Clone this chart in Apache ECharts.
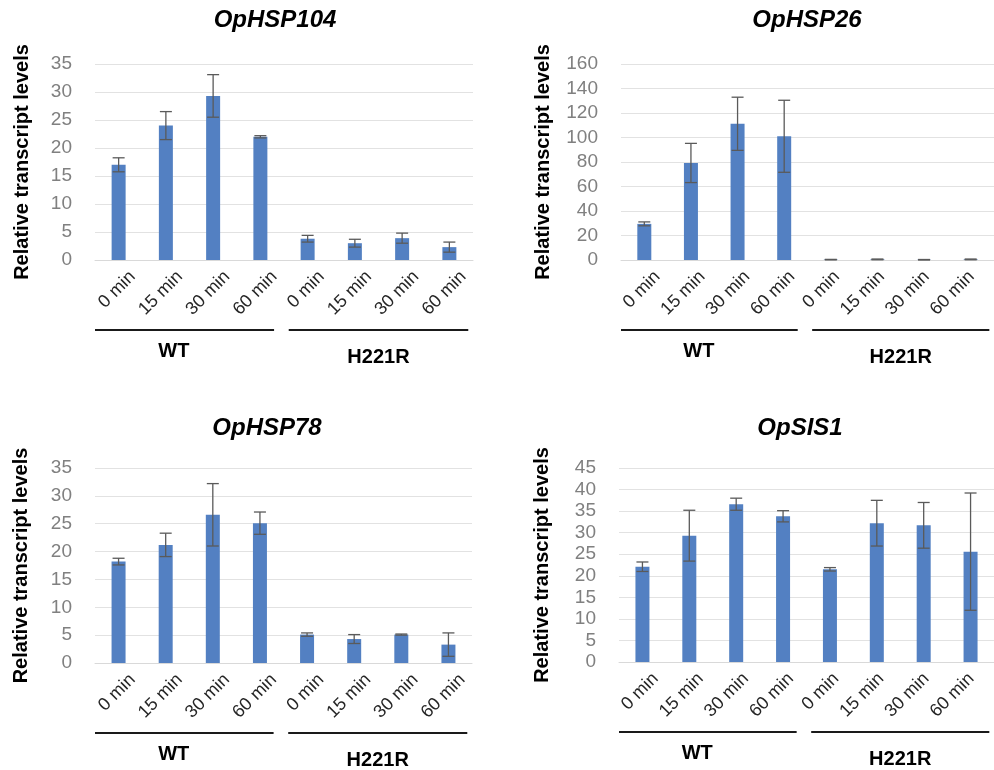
<!DOCTYPE html>
<html><head><meta charset="utf-8">
<script src="https://cdn.jsdelivr.net/npm/echarts@6/dist/echarts.min.js"></script>
<style>html,body{margin:0;padding:0;background:#fff}#c{width:994px;height:770px}</style>
</head><body><div id="c"></div>
<script>
// ---- data ----
const categories = ['0 min', '15 min', '30 min', '60 min', '0 min', '15 min', '30 min', '60 min'];
const groups = ['WT', 'H221R'];
const titles = ['OpHSP104', 'OpHSP26', 'OpHSP78', 'OpSIS1'];
const yName = 'Relative transcript levels';

const hsp104 = [17.0, 24.0, 29.3, 22.0, 3.8, 3.0, 3.9, 2.3];
const hsp104Err = [1.25, 2.5, 3.8, 0.2, 0.6, 0.7, 0.9, 0.9];
const hsp26 = [29.5, 79.2, 111.2, 101.0, 0.3, 0.5, 0.2, 0.5];
const hsp26Err = [1.6, 16.0, 21.7, 29.4, 0.2, 0.3, 0.2, 0.3];
const hsp78 = [18.2, 21.2, 26.6, 25.1, 5.1, 4.3, 5.1, 3.3];
const hsp78Err = [0.6, 2.1, 5.6, 2.0, 0.3, 0.8, 0.1, 2.1];
const sis1 = [22.1, 29.3, 36.6, 33.8, 21.5, 32.2, 31.7, 25.6];
const sis1Err = [1.1, 5.9, 1.4, 1.3, 0.4, 5.3, 5.3, 13.6];

const yMax = [35, 160, 35, 45];
const yInterval = [5, 20, 5, 5];

// ---- layout / style ----
const values = [hsp104, hsp26, hsp78, sis1];
const errors = [hsp104Err, hsp26Err, hsp78Err, sis1Err];
const FONT = '"Liberation Sans", Arial, Helvetica, sans-serif';
const BAR = '#5380c2';
const ERR = '#5a5a5a';
const grids = [
  {left: 95, top: 64, width: 378, height: 196},
  {left: 621, top: 64, width: 373, height: 196},
  {left: 95, top: 468, width: 377, height: 195},
  {left: 619, top: 468, width: 375, height: 194}
];
const titlePos = [[275, 8], [807, 8], [267, 416], [800, 416]];
const nameGaps = [63, 68, 64, 67];
const LABEL_SHIFT = 14;

const chart = echarts.init(document.getElementById('c'), null, {renderer: 'canvas'});

const option = {
  backgroundColor: '#fff',
  animation: false,
  textStyle: {fontFamily: FONT},
  title: titles.map((t, i) => ({
    text: t, left: titlePos[i][0], top: titlePos[i][1], textAlign: 'center', padding: 0,
    textStyle: {fontFamily: FONT, fontSize: 24, fontWeight: 'bold', fontStyle: 'italic', color: '#000'}
  })),
  grid: [
    ...grids.map(g => Object.assign({containLabel: false}, g)),
    ...grids.map(g => Object.assign({containLabel: false}, g, {left: g.left + LABEL_SHIFT}))
  ],
  xAxis: [
    ...grids.map((g, i) => ({
      type: 'category', gridIndex: i, data: categories,
      axisLine: {show: true, lineStyle: {color: '#d9d9d9', width: 1}},
      axisTick: {show: false}, axisLabel: {show: false}, splitLine: {show: false}
    })),
    ...grids.map((g, i) => ({
      type: 'category', gridIndex: 4 + i, data: categories,
      axisLine: {show: false}, axisTick: {show: false}, splitLine: {show: false},
      axisLabel: {show: true, interval: 0, rotate: 45, margin: 14, fontSize: 18, color: '#262626', fontFamily: FONT}
    }))
  ],
  yAxis: [
    ...grids.map((g, i) => ({
      type: 'value', gridIndex: i, min: 0, max: yMax[i], interval: yInterval[i],
      name: yName, nameLocation: 'middle', nameGap: nameGaps[i],
      nameTextStyle: {fontFamily: FONT, fontSize: 20, fontWeight: 'bold', color: '#000'},
      axisLine: {show: false}, axisTick: {show: false},
      axisLabel: {fontSize: 19, color: '#808080', margin: 23, fontFamily: FONT},
      splitLine: {show: true, lineStyle: {color: '#e2e2e2', width: 1}}
    })),
    ...grids.map((g, i) => ({type: 'value', gridIndex: 4 + i, show: false, min: 0, max: 1}))
  ],
  series: [
    ...values.map((v, i) => ({
      type: 'bar', xAxisIndex: i, yAxisIndex: i, data: v, barWidth: 14,
      itemStyle: {color: BAR}, z: 2
    })),
    ...values.map((v, i) => ({
      type: 'custom', xAxisIndex: i, yAxisIndex: i, z: 5,
      data: v.map((val, k) => [k, val - errors[i][k], val + errors[i][k]]),
      encode: {x: 0, y: [1, 2]},
      renderItem: function (params, api) {
        const x = api.value(0);
        const lo = api.coord([x, api.value(1)]);
        const hi = api.coord([x, api.value(2)]);
        const hw = 6;
        const st = {stroke: ERR, lineWidth: 1.3};
        return {type: 'group', children: [
          {type: 'line', shape: {x1: lo[0], y1: lo[1], x2: hi[0], y2: hi[1]}, style: st},
          {type: 'line', shape: {x1: hi[0] - hw, y1: hi[1], x2: hi[0] + hw, y2: hi[1]}, style: st},
          {type: 'line', shape: {x1: lo[0] - hw, y1: lo[1], x2: lo[0] + hw, y2: lo[1]}, style: st}
        ]};
      }
    }))
  ]
};
chart.setOption(option);

// group brackets under the category labels, positioned from the category scale
const gfx = [];
const spans = [[-0.5, 3.29], [3.6, 7.4]];
const labelAt = [1.17, 5.5];
const labelDy = [21, 27];
for (let i = 0; i < 4; i++) {
  const p0 = chart.convertToPixel({xAxisIndex: i, yAxisIndex: i}, [0, 0]);
  const p1 = chart.convertToPixel({xAxisIndex: i, yAxisIndex: i}, [1, 0]);
  const bw = p1[0] - p0[0];
  const lineY = p0[1] + 70;
  groups.forEach((g, j) => {
    gfx.push({type: 'line', shape: {x1: p0[0] + spans[j][0] * bw, y1: lineY, x2: p0[0] + spans[j][1] * bw, y2: lineY},
      style: {stroke: '#1a1a1a', lineWidth: 2}});
    gfx.push({type: 'text', x: p0[0] + labelAt[j] * bw, y: lineY + labelDy[j],
      style: {text: g, fill: '#000', font: 'bold 20px ' + FONT, textAlign: 'center', textVerticalAlign: 'middle'}});
  });
}
chart.setOption({graphic: gfx});
</script>
</body></html>
